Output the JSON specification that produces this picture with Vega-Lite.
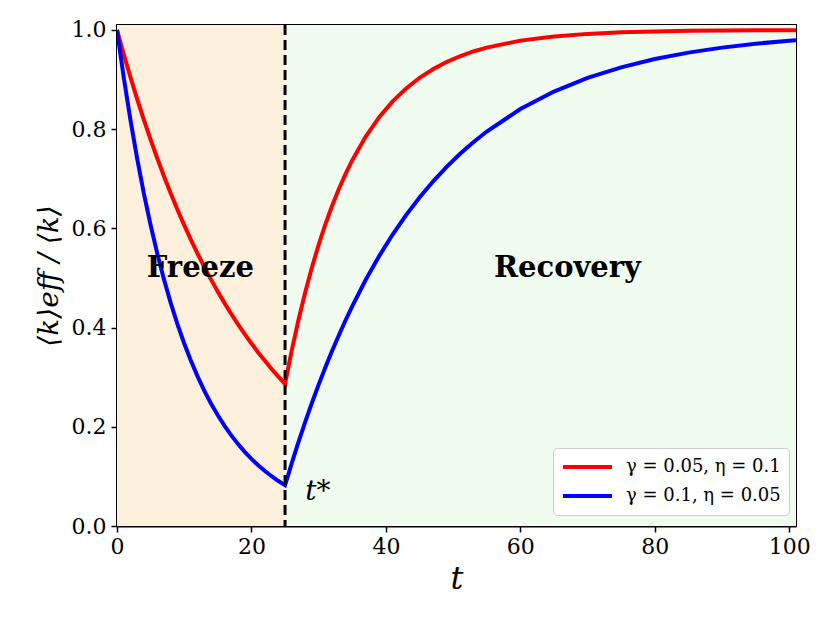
{
  "$schema": "https://vega.github.io/schema/vega-lite/v6.json",
  "width": 679,
  "height": 501,
  "autosize": {"type": "none"},
  "padding": {"left": 117, "top": 25, "right": 34, "bottom": 97},
  "background": "white",
  "config": {
    "font": "DejaVu Serif",
    "view": {"stroke": "black", "strokeWidth": 2},
    "axis": {
      "grid": false,
      "domainColor": "black",
      "domainWidth": 2,
      "tickColor": "black",
      "tickWidth": 1.5,
      "tickSize": 6,
      "labelFont": "DejaVu Serif",
      "labelFontSize": 22,
      "labelColor": "black",
      "labelFlush": false,
      "titleFont": "DejaVu Serif",
      "titleColor": "black",
      "titleFontWeight": "normal"
    }
  },
  "datasets": {
    "curves": [
      {"t": 0, "v": 1.0, "series": "γ = 0.05, η = 0.1"},
      {"t": 1, "v": 0.9512, "series": "γ = 0.05, η = 0.1"},
      {"t": 2, "v": 0.9048, "series": "γ = 0.05, η = 0.1"},
      {"t": 3, "v": 0.8607, "series": "γ = 0.05, η = 0.1"},
      {"t": 4, "v": 0.8187, "series": "γ = 0.05, η = 0.1"},
      {"t": 5, "v": 0.7788, "series": "γ = 0.05, η = 0.1"},
      {"t": 6, "v": 0.7408, "series": "γ = 0.05, η = 0.1"},
      {"t": 7, "v": 0.7047, "series": "γ = 0.05, η = 0.1"},
      {"t": 8, "v": 0.6703, "series": "γ = 0.05, η = 0.1"},
      {"t": 9, "v": 0.6376, "series": "γ = 0.05, η = 0.1"},
      {"t": 10, "v": 0.6065, "series": "γ = 0.05, η = 0.1"},
      {"t": 11, "v": 0.5769, "series": "γ = 0.05, η = 0.1"},
      {"t": 12, "v": 0.5488, "series": "γ = 0.05, η = 0.1"},
      {"t": 13, "v": 0.522, "series": "γ = 0.05, η = 0.1"},
      {"t": 14, "v": 0.4966, "series": "γ = 0.05, η = 0.1"},
      {"t": 15, "v": 0.4724, "series": "γ = 0.05, η = 0.1"},
      {"t": 16, "v": 0.4493, "series": "γ = 0.05, η = 0.1"},
      {"t": 17, "v": 0.4274, "series": "γ = 0.05, η = 0.1"},
      {"t": 18, "v": 0.4066, "series": "γ = 0.05, η = 0.1"},
      {"t": 19, "v": 0.3867, "series": "γ = 0.05, η = 0.1"},
      {"t": 20, "v": 0.3679, "series": "γ = 0.05, η = 0.1"},
      {"t": 21, "v": 0.3499, "series": "γ = 0.05, η = 0.1"},
      {"t": 22, "v": 0.3329, "series": "γ = 0.05, η = 0.1"},
      {"t": 23, "v": 0.3166, "series": "γ = 0.05, η = 0.1"},
      {"t": 24, "v": 0.3012, "series": "γ = 0.05, η = 0.1"},
      {"t": 25, "v": 0.2865, "series": "γ = 0.05, η = 0.1"},
      {"t": 26, "v": 0.3544, "series": "γ = 0.05, η = 0.1"},
      {"t": 27, "v": 0.4158, "series": "γ = 0.05, η = 0.1"},
      {"t": 28, "v": 0.4714, "series": "γ = 0.05, η = 0.1"},
      {"t": 29, "v": 0.5217, "series": "γ = 0.05, η = 0.1"},
      {"t": 30, "v": 0.5672, "series": "γ = 0.05, η = 0.1"},
      {"t": 31, "v": 0.6084, "series": "γ = 0.05, η = 0.1"},
      {"t": 32, "v": 0.6457, "series": "γ = 0.05, η = 0.1"},
      {"t": 33, "v": 0.6794, "series": "γ = 0.05, η = 0.1"},
      {"t": 34, "v": 0.7099, "series": "γ = 0.05, η = 0.1"},
      {"t": 35, "v": 0.7375, "series": "γ = 0.05, η = 0.1"},
      {"t": 37, "v": 0.7851, "series": "γ = 0.05, η = 0.1"},
      {"t": 39, "v": 0.8241, "series": "γ = 0.05, η = 0.1"},
      {"t": 41, "v": 0.856, "series": "γ = 0.05, η = 0.1"},
      {"t": 43, "v": 0.8821, "series": "γ = 0.05, η = 0.1"},
      {"t": 45, "v": 0.9034, "series": "γ = 0.05, η = 0.1"},
      {"t": 47, "v": 0.9209, "series": "γ = 0.05, η = 0.1"},
      {"t": 49, "v": 0.9353, "series": "γ = 0.05, η = 0.1"},
      {"t": 51, "v": 0.947, "series": "γ = 0.05, η = 0.1"},
      {"t": 53, "v": 0.9566, "series": "γ = 0.05, η = 0.1"},
      {"t": 55, "v": 0.9645, "series": "γ = 0.05, η = 0.1"},
      {"t": 60, "v": 0.9785, "series": "γ = 0.05, η = 0.1"},
      {"t": 65, "v": 0.9869, "series": "γ = 0.05, η = 0.1"},
      {"t": 70, "v": 0.9921, "series": "γ = 0.05, η = 0.1"},
      {"t": 75, "v": 0.9952, "series": "γ = 0.05, η = 0.1"},
      {"t": 80, "v": 0.9971, "series": "γ = 0.05, η = 0.1"},
      {"t": 85, "v": 0.9982, "series": "γ = 0.05, η = 0.1"},
      {"t": 90, "v": 0.9989, "series": "γ = 0.05, η = 0.1"},
      {"t": 95, "v": 0.9994, "series": "γ = 0.05, η = 0.1"},
      {"t": 101, "v": 0.9996, "series": "γ = 0.05, η = 0.1"},
      {"t": 0, "v": 1.0, "series": "γ = 0.1, η = 0.05"},
      {"t": 1, "v": 0.9048, "series": "γ = 0.1, η = 0.05"},
      {"t": 2, "v": 0.8187, "series": "γ = 0.1, η = 0.05"},
      {"t": 3, "v": 0.7408, "series": "γ = 0.1, η = 0.05"},
      {"t": 4, "v": 0.6703, "series": "γ = 0.1, η = 0.05"},
      {"t": 5, "v": 0.6065, "series": "γ = 0.1, η = 0.05"},
      {"t": 6, "v": 0.5488, "series": "γ = 0.1, η = 0.05"},
      {"t": 7, "v": 0.4966, "series": "γ = 0.1, η = 0.05"},
      {"t": 8, "v": 0.4493, "series": "γ = 0.1, η = 0.05"},
      {"t": 9, "v": 0.4066, "series": "γ = 0.1, η = 0.05"},
      {"t": 10, "v": 0.3679, "series": "γ = 0.1, η = 0.05"},
      {"t": 11, "v": 0.3329, "series": "γ = 0.1, η = 0.05"},
      {"t": 12, "v": 0.3012, "series": "γ = 0.1, η = 0.05"},
      {"t": 13, "v": 0.2725, "series": "γ = 0.1, η = 0.05"},
      {"t": 14, "v": 0.2466, "series": "γ = 0.1, η = 0.05"},
      {"t": 15, "v": 0.2231, "series": "γ = 0.1, η = 0.05"},
      {"t": 16, "v": 0.2019, "series": "γ = 0.1, η = 0.05"},
      {"t": 17, "v": 0.1827, "series": "γ = 0.1, η = 0.05"},
      {"t": 18, "v": 0.1653, "series": "γ = 0.1, η = 0.05"},
      {"t": 19, "v": 0.1496, "series": "γ = 0.1, η = 0.05"},
      {"t": 20, "v": 0.1353, "series": "γ = 0.1, η = 0.05"},
      {"t": 21, "v": 0.1225, "series": "γ = 0.1, η = 0.05"},
      {"t": 22, "v": 0.1108, "series": "γ = 0.1, η = 0.05"},
      {"t": 23, "v": 0.1003, "series": "γ = 0.1, η = 0.05"},
      {"t": 24, "v": 0.0907, "series": "γ = 0.1, η = 0.05"},
      {"t": 25, "v": 0.0821, "series": "γ = 0.1, η = 0.05"},
      {"t": 26, "v": 0.1269, "series": "γ = 0.1, η = 0.05"},
      {"t": 27, "v": 0.1695, "series": "γ = 0.1, η = 0.05"},
      {"t": 28, "v": 0.21, "series": "γ = 0.1, η = 0.05"},
      {"t": 29, "v": 0.2485, "series": "γ = 0.1, η = 0.05"},
      {"t": 30, "v": 0.2851, "series": "γ = 0.1, η = 0.05"},
      {"t": 31, "v": 0.32, "series": "γ = 0.1, η = 0.05"},
      {"t": 32, "v": 0.3532, "series": "γ = 0.1, η = 0.05"},
      {"t": 33, "v": 0.3847, "series": "γ = 0.1, η = 0.05"},
      {"t": 34, "v": 0.4147, "series": "γ = 0.1, η = 0.05"},
      {"t": 35, "v": 0.4433, "series": "γ = 0.1, η = 0.05"},
      {"t": 37, "v": 0.4963, "series": "γ = 0.1, η = 0.05"},
      {"t": 39, "v": 0.5442, "series": "γ = 0.1, η = 0.05"},
      {"t": 41, "v": 0.5876, "series": "γ = 0.1, η = 0.05"},
      {"t": 43, "v": 0.6268, "series": "γ = 0.1, η = 0.05"},
      {"t": 45, "v": 0.6623, "series": "γ = 0.1, η = 0.05"},
      {"t": 47, "v": 0.6944, "series": "γ = 0.1, η = 0.05"},
      {"t": 49, "v": 0.7235, "series": "γ = 0.1, η = 0.05"},
      {"t": 51, "v": 0.7498, "series": "γ = 0.1, η = 0.05"},
      {"t": 53, "v": 0.7736, "series": "γ = 0.1, η = 0.05"},
      {"t": 55, "v": 0.7952, "series": "γ = 0.1, η = 0.05"},
      {"t": 60, "v": 0.8405, "series": "γ = 0.1, η = 0.05"},
      {"t": 65, "v": 0.8758, "series": "γ = 0.1, η = 0.05"},
      {"t": 70, "v": 0.9033, "series": "γ = 0.1, η = 0.05"},
      {"t": 75, "v": 0.9247, "series": "γ = 0.1, η = 0.05"},
      {"t": 80, "v": 0.9413, "series": "γ = 0.1, η = 0.05"},
      {"t": 85, "v": 0.9543, "series": "γ = 0.1, η = 0.05"},
      {"t": 90, "v": 0.9644, "series": "γ = 0.1, η = 0.05"},
      {"t": 95, "v": 0.9723, "series": "γ = 0.1, η = 0.05"},
      {"t": 100, "v": 0.9784, "series": "γ = 0.1, η = 0.05"},
      {"t": 101, "v": 0.9795, "series": "γ = 0.1, η = 0.05"}
    ],
    "regions": [
      {"start": 0, "end": 25, "phase": "freeze"},
      {"start": 25, "end": 101, "phase": "recovery"}
    ],
    "labels": [
      {"t": 12.4, "v": 0.52, "text": "Freeze"},
      {"t": 67, "v": 0.52, "text": "Recovery"}
    ],
    "marker": [
      {"t": 28, "v": 0.068, "text": "t*"}
    ]
  },
  "layer": [
    {
      "data": {"name": "regions"},
      "mark": {"type": "rect"},
      "encoding": {
        "x": {
          "field": "start",
          "type": "quantitative",
          "scale": {"domain": [0, 101], "nice": false, "zero": false},
          "axis": {
            "values": [0, 20, 40, 60, 80, 100],
            "title": "t",
            "titleFontSize": 32,
            "titleFontStyle": "italic",
            "titlePadding": 6,
            "labelPadding": 4
          }
        },
        "x2": {"field": "end"},
        "y": {"datum": 0, "type": "quantitative"},
        "y2": {"datum": 1.01},
        "color": {
          "field": "phase",
          "type": "nominal",
          "scale": {"domain": ["freeze", "recovery"], "range": ["#fdf0dc", "#f1fcf1"]},
          "legend": null
        }
      }
    },
    {
      "data": {"name": "curves"},
      "mark": {"type": "line", "strokeWidth": 4, "clip": true},
      "encoding": {
        "x": {"field": "t", "type": "quantitative"},
        "y": {
          "field": "v",
          "type": "quantitative",
          "scale": {"domain": [0, 1.01], "nice": false, "zero": false},
          "axis": {
            "values": [0, 0.2, 0.4, 0.6, 0.8, 1.0],
            "format": ".1f",
            "title": "⟨k⟩eff / ⟨k⟩",
            "titleFontSize": 28,
            "titleFontStyle": "italic",
            "titlePadding": 8,
            "labelPadding": 5
          }
        },
        "stroke": {
          "field": "series",
          "type": "nominal",
          "scale": {"domain": ["γ = 0.05, η = 0.1", "γ = 0.1, η = 0.05"], "range": ["#ff0000", "#0000ff"]},
          "legend": {
            "title": null,
            "orient": "none",
            "legendX": 436,
            "legendY": 423,
            "symbolType": "stroke",
            "symbolSize": 2400,
            "symbolStrokeWidth": 4,
            "clipHeight": 22,
            "labelFont": "DejaVu Serif",
            "labelFontSize": 18,
            "labelColor": "black",
            "labelOffset": 12,
            "rowPadding": 7,
            "padding": 8,
            "fillColor": "white",
            "strokeColor": "#cccccc",
            "cornerRadius": 4
          }
        }
      }
    },
    {
      "data": {"values": [{"t": 25}]},
      "mark": {"type": "rule", "color": "black", "strokeWidth": 3, "strokeDash": [10, 5]},
      "encoding": {"x": {"field": "t", "type": "quantitative"}}
    },
    {
      "data": {"name": "labels"},
      "mark": {"type": "text", "fontSize": 29, "fontWeight": "bold", "font": "DejaVu Serif", "color": "black", "baseline": "middle"},
      "encoding": {
        "x": {"field": "t", "type": "quantitative"},
        "y": {"field": "v", "type": "quantitative"},
        "text": {"field": "text"}
      }
    },
    {
      "data": {"name": "marker"},
      "mark": {"type": "text", "fontSize": 28, "fontStyle": "italic", "font": "DejaVu Serif", "color": "black", "baseline": "middle", "align": "left"},
      "encoding": {
        "x": {"field": "t", "type": "quantitative"},
        "y": {"field": "v", "type": "quantitative"},
        "text": {"field": "text"}
      }
    }
  ]
}
